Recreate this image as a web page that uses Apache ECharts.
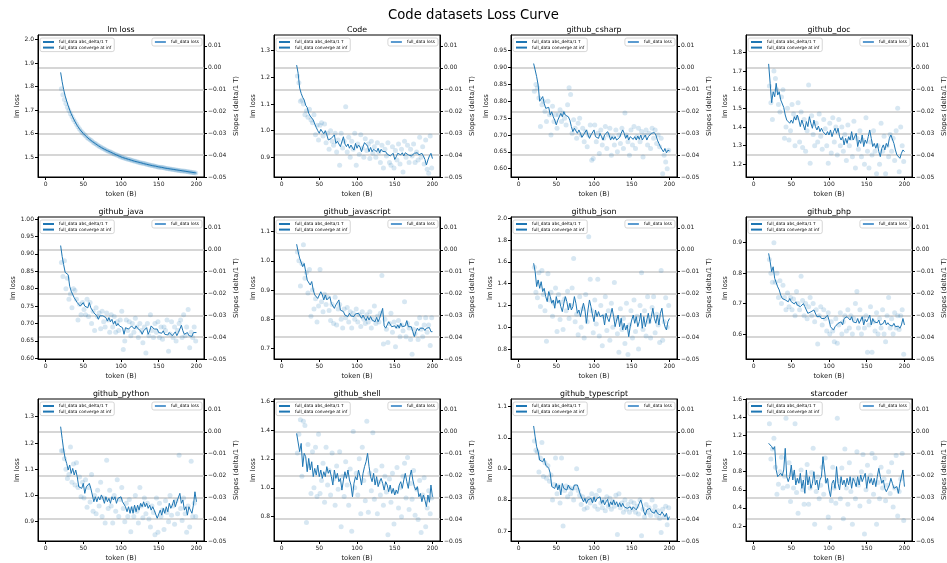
<!DOCTYPE html>
<html>
<head>
<meta charset="utf-8">
<script src="https://cdn.jsdelivr.net/npm/echarts@6/dist/echarts.min.js"></script>
<style>
  html, body { margin: 0; padding: 0; background: #ffffff; }
  #chart { width: 947px; height: 563px; }
</style>
</head>
<body>
<div id="chart"></div>
<script>
// ---- text ----
const suptitle = 'Code datasets Loss Curve';
const panelTitles = ['lm loss', 'Code', 'github_csharp', 'github_doc',
  'github_java', 'github_javascript', 'github_json', 'github_php',
  'github_python', 'github_shell', 'github_typescript', 'starcoder'];
const legendDelta = 'full_data abs_delta/1 T';
const legendConverge = 'full_data converge at inf';
const legendLoss = 'full_data loss';

// ---- shared x positions (token count, in billions) ----
const lineTokens = [
  20, 22, 24, 26, 28, 30, 32, 34, 36, 38,
  40, 42, 44, 46, 48, 50, 52, 54, 56, 58,
  60, 62, 64, 66, 68, 70, 72, 74, 76, 78,
  80, 82, 84, 86, 88, 90, 92, 94, 96, 98,
  100, 102, 104, 106, 108, 110, 112, 114, 116, 118,
  120, 122, 124, 126, 128, 130, 132, 134, 136, 138,
  140, 142, 144, 146, 148, 150, 152, 154, 156, 158,
  160, 162, 164, 166, 168, 170, 172, 174, 176, 178,
  180, 182, 184, 186, 188, 190, 192, 194, 196, 198,
  200];
const dotTokens = [
  21, 23, 25, 27, 29, 31, 33, 35, 37, 39,
  41, 43, 45, 47, 49, 51, 53, 55, 57, 59,
  61, 63, 65, 67, 69, 71, 73, 75, 77, 79,
  81, 83, 85, 87, 89, 91, 93, 95, 97, 99,
  101, 103, 105, 107, 109, 111, 113, 115, 117, 119,
  121, 123, 125, 127, 129, 131, 133, 135, 137, 139,
  141, 143, 145, 147, 149, 151, 153, 155, 157, 159,
  161, 163, 165, 167, 169, 171, 173, 175, 177, 179,
  181, 183, 185, 187, 189, 191, 193, 195, 197, 199];

// ---- tick labels ----
const tokenTicks = [0, 50, 100, 150, 200];
const slopeTicks = [-0.05, -0.04, -0.03, -0.02, -0.01, 0, 0.01];
const lmLossTicks = [1.5, 1.6, 1.7, 1.8, 1.9, 2.0];
const codeTicks = [0.9, 1.0, 1.1, 1.2, 1.3];
const csharpTicks = [0.60, 0.65, 0.70, 0.75, 0.80, 0.85, 0.90, 0.95];
const docTicks = [1.2, 1.3, 1.4, 1.5, 1.6, 1.7, 1.8];
const javaTicks = [0.60, 0.65, 0.70, 0.75, 0.80, 0.85, 0.90, 0.95, 1.00];
const jsTicks = [0.7, 0.8, 0.9, 1.0, 1.1];
const jsonTicks = [0.8, 1.0, 1.2, 1.4, 1.6, 1.8, 2.0];
const phpTicks = [0.6, 0.7, 0.8, 0.9];
const pythonTicks = [0.9, 1.0, 1.1, 1.2, 1.3];
const shellTicks = [0.8, 1.0, 1.2, 1.4, 1.6];
const tsTicks = [0.7, 0.8, 0.9, 1.0, 1.1];
const starTicks = [0.2, 0.4, 0.6, 0.8, 1.0, 1.2, 1.4, 1.6];

// ---- lm loss ----
const lmLossLine = [
  1.860, 1.820, 1.787, 1.760, 1.738, 1.718, 1.700, 1.684, 1.670, 1.657,
  1.645, 1.634, 1.624, 1.615, 1.607, 1.600, 1.593, 1.587, 1.581, 1.576,
  1.571, 1.566, 1.561, 1.557, 1.552, 1.548, 1.544, 1.540, 1.537, 1.533,
  1.530, 1.527, 1.524, 1.521, 1.518, 1.515, 1.512, 1.509, 1.506, 1.503,
  1.500, 1.498, 1.496, 1.494, 1.492, 1.490, 1.488, 1.486, 1.484, 1.482,
  1.481, 1.479, 1.477, 1.476, 1.474, 1.472, 1.471, 1.469, 1.468, 1.466,
  1.465, 1.463, 1.462, 1.461, 1.459, 1.458, 1.457, 1.456, 1.454, 1.453,
  1.452, 1.451, 1.450, 1.449, 1.448, 1.447, 1.446, 1.445, 1.444, 1.443,
  1.442, 1.441, 1.440, 1.439, 1.438, 1.437, 1.436, 1.435, 1.434, 1.433,
  1.432];
const lmLossDots = [
  1.790, 1.765, 1.745, 1.728, 1.712, 1.698, 1.684, 1.672, 1.660, 1.650,
  1.639, 1.629, 1.619, 1.611, 1.603, 1.597, 1.590, 1.583, 1.578, 1.573,
  1.569, 1.563, 1.559, 1.555, 1.550, 1.546, 1.543, 1.538, 1.535, 1.532,
  1.528, 1.525, 1.522, 1.520, 1.516, 1.513, 1.511, 1.507, 1.505, 1.501,
  1.499, 1.497, 1.495, 1.493, 1.490, 1.489, 1.487, 1.485, 1.483, 1.482,
  1.480, 1.478, 1.476, 1.475, 1.473, 1.472, 1.470, 1.468, 1.467, 1.465,
  1.464, 1.463, 1.461, 1.460, 1.458, 1.457, 1.456, 1.455, 1.454, 1.452,
  1.451, 1.450, 1.449, 1.448, 1.447, 1.446, 1.445, 1.444, 1.443, 1.442,
  1.441, 1.440, 1.439, 1.438, 1.437, 1.436, 1.435, 1.434, 1.433, 1.432];

// ---- Code ----
const codeLine = [
  1.246, 1.215, 1.160, 1.140, 1.125, 1.115, 1.095, 1.087, 1.065, 1.055,
  1.060, 1.040, 1.025, 1.012, 1.000, 0.990, 1.005, 1.000, 0.988, 1.000,
  0.984, 0.965, 0.960, 0.971, 0.965, 0.984, 0.952, 0.960, 0.965, 0.940,
  0.946, 0.977, 0.950, 0.940, 0.950, 0.934, 0.946, 0.935, 0.927, 0.952,
  0.934, 0.946, 0.938, 0.921, 0.940, 0.955, 0.962, 0.942, 0.921, 0.937,
  0.921, 0.930, 0.934, 0.921, 0.934, 0.917, 0.930, 0.922, 0.915, 0.921,
  0.912, 0.917, 0.905, 0.902, 0.915, 0.892, 0.902, 0.915, 0.921, 0.909,
  0.917, 0.905, 0.917, 0.912, 0.909, 0.915, 0.905, 0.912, 0.915, 0.909,
  0.917, 0.909, 0.912, 0.915, 0.905, 0.892, 0.871, 0.890, 0.905, 0.915,
  0.895];
const codeDots = [
  1.205, 1.180, 1.110, 1.115, 1.100, 1.060, 1.075, 1.050, 1.080, 1.040,
  1.030, 1.060, 0.985, 1.020, 0.965, 1.020, 1.030, 0.980, 1.025, 0.955,
  0.990, 0.930, 1.000, 0.960, 0.945, 0.990, 0.920, 0.965, 0.870, 0.990,
  0.935, 0.960, 1.090, 0.920, 0.975, 0.900, 0.960, 0.930, 0.990, 0.870,
  0.950, 0.910, 0.985, 0.935, 0.900, 0.970, 0.925, 0.950, 0.895, 0.960,
  0.915, 0.940, 0.900, 0.955, 0.920, 0.880, 0.945, 0.860, 0.930, 0.905,
  0.955, 0.880, 0.870, 0.940, 0.860, 0.925, 0.890, 0.950, 0.875, 0.930,
  0.845, 0.960, 0.900, 0.945, 0.880, 0.930, 0.905, 0.950, 0.880, 0.920,
  0.890, 0.975, 0.900, 0.940, 0.875, 0.965, 0.855, 0.840, 0.980, 0.860];

// ---- github_csharp ----
const csharpLine = [
  0.912, 0.893, 0.873, 0.848, 0.800, 0.799, 0.814, 0.794, 0.779, 0.779,
  0.782, 0.759, 0.769, 0.754, 0.744, 0.730, 0.744, 0.754, 0.764, 0.754,
  0.769, 0.759, 0.754, 0.754, 0.744, 0.725, 0.710, 0.720, 0.715, 0.705,
  0.715, 0.705, 0.693, 0.700, 0.695, 0.715, 0.700, 0.690, 0.700, 0.705,
  0.715, 0.695, 0.700, 0.690, 0.705, 0.695, 0.685, 0.700, 0.695, 0.710,
  0.700, 0.685, 0.695, 0.687, 0.695, 0.685, 0.690, 0.693, 0.705, 0.715,
  0.705, 0.690, 0.700, 0.685, 0.695, 0.700, 0.687, 0.695, 0.685, 0.697,
  0.687, 0.700, 0.685, 0.693, 0.700, 0.685, 0.695, 0.690, 0.705, 0.700,
  0.707, 0.700, 0.685, 0.675, 0.665, 0.667, 0.650, 0.660, 0.647, 0.655,
  0.653];
const csharpDots = [
  0.830, 0.850, 0.840, 0.810, 0.725, 0.790, 0.800, 0.770, 0.740, 0.800,
  0.760, 0.700, 0.785, 0.740, 0.760, 0.720, 0.760, 0.775, 0.740, 0.765,
  0.750, 0.730, 0.790, 0.840, 0.820, 0.705, 0.745, 0.720, 0.690, 0.735,
  0.750, 0.700, 0.720, 0.680, 0.710, 0.665, 0.700, 0.730, 0.625, 0.630,
  0.730, 0.680, 0.705, 0.645, 0.715, 0.670, 0.690, 0.725, 0.660, 0.700,
  0.720, 0.640, 0.695, 0.670, 0.715, 0.650, 0.700, 0.675, 0.720, 0.660,
  0.765, 0.700, 0.680, 0.640, 0.715, 0.670, 0.725, 0.660, 0.695, 0.720,
  0.680, 0.710, 0.635, 0.700, 0.715, 0.670, 0.705, 0.660, 0.720, 0.690,
  0.715, 0.675, 0.700, 0.665, 0.690, 0.585, 0.640, 0.620, 0.600, 0.655];

// ---- github_doc ----
const docLine = [
  1.738, 1.634, 1.530, 1.589, 1.562, 1.634, 1.571, 1.589, 1.545, 1.554,
  1.505, 1.464, 1.437, 1.446, 1.420, 1.437, 1.420, 1.455, 1.437, 1.464,
  1.437, 1.402, 1.437, 1.411, 1.384, 1.429, 1.402, 1.455, 1.420, 1.393,
  1.437, 1.402, 1.384, 1.405, 1.375, 1.393, 1.375, 1.384, 1.357, 1.375,
  1.357, 1.384, 1.348, 1.375, 1.393, 1.366, 1.393, 1.348, 1.330, 1.348,
  1.304, 1.339, 1.312, 1.348, 1.330, 1.375, 1.330, 1.321, 1.366, 1.295,
  1.330, 1.312, 1.357, 1.295, 1.330, 1.312, 1.348, 1.384, 1.339, 1.295,
  1.312, 1.286, 1.312, 1.268, 1.241, 1.286, 1.304, 1.277, 1.312, 1.295,
  1.339, 1.357, 1.348, 1.312, 1.277, 1.250, 1.259, 1.232, 1.259, 1.277,
  1.268];
const docDots = [
  1.620, 1.530, 1.440, 1.700, 1.660, 1.600, 1.520, 1.480, 1.560, 1.600,
  1.340, 1.400, 1.500, 1.330, 1.380, 1.520, 1.470, 1.300, 1.450, 1.530,
  1.320, 1.480, 1.290, 1.440, 1.270, 1.380, 1.625, 1.205, 1.460, 1.360,
  1.300, 1.420, 1.320, 1.470, 1.350, 1.280, 1.440, 1.390, 1.300, 1.205,
  1.420, 1.260, 1.450, 1.320, 1.400, 1.250, 1.440, 1.300, 1.400, 1.270,
  1.360, 1.220, 1.410, 1.300, 1.340, 1.240, 1.430, 1.180, 1.340, 1.280,
  1.380, 1.240, 1.330, 1.200, 1.450, 1.270, 1.180, 1.320, 1.250, 1.380,
  1.270, 1.150, 1.300, 1.200, 1.420, 1.270, 1.350, 1.150, 1.300, 1.240,
  1.360, 1.270, 1.340, 1.220, 1.380, 1.500, 1.160, 1.400, 1.300, 1.215];

// ---- github_java ----
const javaLine = [
  0.924, 0.893, 0.869, 0.847, 0.845, 0.840, 0.807, 0.793, 0.788, 0.774,
  0.769, 0.760, 0.764, 0.750, 0.745, 0.760, 0.750, 0.755, 0.745, 0.760,
  0.745, 0.740, 0.731, 0.736, 0.722, 0.712, 0.722, 0.717, 0.722, 0.726,
  0.717, 0.707, 0.717, 0.705, 0.712, 0.698, 0.707, 0.693, 0.700, 0.693,
  0.698, 0.688, 0.669, 0.688, 0.693, 0.684, 0.688, 0.693, 0.688, 0.684,
  0.693, 0.686, 0.688, 0.679, 0.669, 0.679, 0.674, 0.688, 0.669, 0.679,
  0.693, 0.698, 0.684, 0.679, 0.684, 0.674, 0.679, 0.672, 0.679, 0.669,
  0.674, 0.667, 0.674, 0.669, 0.665, 0.669, 0.676, 0.665, 0.674, 0.684,
  0.695, 0.679, 0.669, 0.665, 0.674, 0.665, 0.669, 0.663, 0.674, 0.679,
  0.674];
const javaDots = [
  0.875, 0.835, 0.880, 0.800, 0.830, 0.770, 0.785, 0.745, 0.800, 0.795,
  0.770, 0.710, 0.755, 0.725, 0.760, 0.740, 0.725, 0.770, 0.720, 0.760,
  0.700, 0.735, 0.680, 0.745, 0.720, 0.730, 0.685, 0.735, 0.705, 0.690,
  0.730, 0.710, 0.675, 0.725, 0.690, 0.720, 0.675, 0.705, 0.680, 0.710,
  0.735, 0.625, 0.650, 0.710, 0.680, 0.705, 0.665, 0.700, 0.675, 0.715,
  0.690, 0.660, 0.700, 0.680, 0.645, 0.690, 0.615, 0.700, 0.665, 0.725,
  0.680, 0.660, 0.700, 0.675, 0.705, 0.660, 0.690, 0.655, 0.690, 0.680,
  0.710, 0.620, 0.670, 0.705, 0.660, 0.690, 0.650, 0.680, 0.700, 0.710,
  0.660, 0.725, 0.665, 0.690, 0.740, 0.630, 0.675, 0.660, 0.690, 0.650];

// ---- github_javascript ----
const jsLine = [
  1.057, 1.031, 1.009, 1.014, 0.980, 0.991, 0.963, 0.934, 0.934, 0.917,
  0.929, 0.900, 0.883, 0.889, 0.871, 0.871, 0.894, 0.883, 0.866, 0.883,
  0.866, 0.860, 0.877, 0.854, 0.860, 0.837, 0.849, 0.843, 0.866, 0.831,
  0.837, 0.826, 0.814, 0.820, 0.809, 0.820, 0.811, 0.814, 0.809, 0.818,
  0.814, 0.820, 0.814, 0.803, 0.814, 0.803, 0.795, 0.809, 0.797, 0.809,
  0.797, 0.803, 0.791, 0.806, 0.791, 0.803, 0.809, 0.837, 0.777, 0.769,
  0.780, 0.791, 0.797, 0.774, 0.769, 0.777, 0.769, 0.780, 0.769, 0.786,
  0.774, 0.769, 0.777, 0.795, 0.774, 0.769, 0.774, 0.757, 0.740, 0.757,
  0.769, 0.761, 0.769, 0.763, 0.769, 0.761, 0.769, 0.763, 0.771, 0.757,
  0.757];
const jsDots = [
  1.030, 1.000, 0.914, 0.990, 1.055, 0.940, 0.960, 0.890, 0.970, 0.810,
  0.900, 0.835, 0.870, 0.790, 0.845, 0.970, 0.860, 0.825, 0.885, 0.850,
  0.875, 0.830, 0.795, 0.850, 0.785, 0.875, 0.780, 0.835, 0.850, 0.800,
  0.770, 0.835, 0.805, 0.840, 0.790, 0.825, 0.770, 0.820, 0.800, 0.835,
  0.790, 0.815, 0.775, 0.825, 0.800, 0.785, 0.815, 0.790, 0.825, 0.770,
  0.800, 0.845, 0.785, 0.810, 0.790, 0.820, 0.950, 0.715, 0.800, 0.765,
  0.720, 0.785, 0.820, 0.755, 0.790, 0.705, 0.775, 0.795, 0.740, 0.780,
  0.760, 0.860, 0.740, 0.785, 0.770, 0.730, 0.680, 0.765, 0.750, 0.785,
  0.730, 0.805, 0.765, 0.740, 0.780, 0.805, 0.755, 0.780, 0.710, 0.805];

// ---- github_json ----
const jsonLine = [
  1.587, 1.510, 1.373, 1.434, 1.357, 1.418, 1.327, 1.357, 1.281, 1.235,
  1.327, 1.281, 1.220, 1.250, 1.174, 1.281, 1.220, 1.250, 1.189, 1.143,
  1.220, 1.281, 1.235, 1.158, 1.220, 1.158, 1.189, 1.281, 1.220, 1.128,
  1.158, 1.097, 1.158, 1.220, 1.158, 1.036, 1.158, 1.250, 1.189, 1.112,
  1.051, 1.158, 1.097, 1.143, 1.097, 1.082, 1.112, 1.020, 1.128, 1.082,
  1.051, 1.112, 1.174, 1.097, 1.005, 1.066, 1.112, 1.005, 1.082, 0.975,
  1.036, 0.975, 1.020, 0.913, 1.005, 1.066, 1.112, 1.036, 1.097, 1.005,
  1.051, 1.128, 0.990, 1.097, 1.005, 1.066, 1.128, 1.036, 1.097, 1.174,
  1.082, 1.036, 1.112, 1.020, 1.128, 1.174, 1.066, 1.005, 0.975, 1.051,
  1.080];
const jsonDots = [
  1.550, 1.320, 1.270, 1.500, 1.190, 1.520, 1.300, 1.150, 0.870, 1.490,
  1.250, 1.320, 1.100, 1.220, 1.360, 0.960, 1.300, 1.070, 1.230, 0.980,
  1.260, 1.150, 1.330, 1.080, 1.200, 1.360, 1.630, 1.050, 1.120, 0.930,
  1.280, 1.000, 1.170, 0.900, 1.300, 1.050, 1.830, 1.440, 1.150, 0.950,
  1.250, 1.030, 1.440, 0.920, 1.200, 0.830, 1.100, 1.280, 0.970, 1.150,
  0.880, 1.220, 1.000, 1.410, 1.080, 0.940, 0.770, 1.170, 0.980, 1.080,
  0.850, 1.220, 0.750, 1.020, 1.150, 0.900, 1.250, 0.960, 1.100, 0.800,
  1.200, 1.500, 0.980, 1.150, 0.920, 1.280, 1.050, 0.900, 1.180, 1.280,
  0.950, 1.120, 1.020, 0.860, 1.520, 0.880, 1.050, 1.270, 1.000, 1.200];

// ---- github_php ----
const phpLine = [
  0.865, 0.838, 0.805, 0.821, 0.783, 0.777, 0.755, 0.745, 0.728, 0.717,
  0.723, 0.712, 0.717, 0.706, 0.717, 0.706, 0.712, 0.699, 0.706, 0.695,
  0.700, 0.690, 0.692, 0.700, 0.690, 0.679, 0.668, 0.662, 0.673, 0.668,
  0.679, 0.684, 0.657, 0.651, 0.659, 0.651, 0.657, 0.651, 0.657, 0.662,
  0.646, 0.624, 0.630, 0.613, 0.624, 0.619, 0.635, 0.630, 0.640, 0.630,
  0.651, 0.646, 0.657, 0.651, 0.646, 0.657, 0.640, 0.646, 0.637, 0.651,
  0.635, 0.646, 0.657, 0.630, 0.648, 0.640, 0.651, 0.662, 0.630, 0.651,
  0.640, 0.646, 0.637, 0.646, 0.630, 0.624, 0.635, 0.646, 0.630, 0.637,
  0.630, 0.635, 0.626, 0.635, 0.624, 0.630, 0.626, 0.619, 0.630, 0.651,
  0.630];
const phpDots = [
  0.845, 0.800, 0.770, 0.900, 0.770, 0.800, 0.720, 0.775, 0.700, 0.760,
  0.720, 0.680, 0.735, 0.690, 0.720, 0.680, 0.715, 0.660, 0.740, 0.700,
  0.680, 0.790, 0.710, 0.660, 0.700, 0.650, 0.690, 0.720, 0.660, 0.700,
  0.640, 0.680, 0.567, 0.660, 0.690, 0.630, 0.680, 0.650, 0.610, 0.670,
  0.600, 0.640, 0.610, 0.575, 0.650, 0.570, 0.630, 0.670, 0.600, 0.640,
  0.660, 0.610, 0.680, 0.620, 0.660, 0.600, 0.650, 0.700, 0.740, 0.620,
  0.680, 0.600, 0.650, 0.620, 0.660, 0.540, 0.630, 0.690, 0.540, 0.640,
  0.610, 0.670, 0.600, 0.650, 0.620, 0.680, 0.600, 0.575, 0.660, 0.720,
  0.620, 0.650, 0.600, 0.670, 0.620, 0.660, 0.615, 0.660, 0.680, 0.534];

// ---- github_python ----
const pythonLine = [
  1.262, 1.217, 1.173, 1.141, 1.122, 1.097, 1.116, 1.084, 1.103, 1.078,
  1.097, 1.071, 1.033, 1.040, 1.027, 1.046, 1.008, 1.033, 1.040, 1.046,
  1.027, 1.002, 0.976, 0.995, 0.976, 0.995, 0.983, 1.002, 0.989, 0.970,
  0.995, 0.976, 0.989, 0.970, 0.995, 0.983, 0.995, 0.970, 0.989, 0.983,
  0.995, 0.976, 0.983, 0.957, 0.938, 0.957, 0.932, 0.957, 0.932, 0.963,
  0.938, 0.963, 0.944, 0.970, 0.957, 0.976, 0.957, 0.970, 0.951, 0.963,
  0.944, 0.957, 0.944, 0.938, 0.913, 0.919, 0.944, 0.925, 0.951, 0.932,
  0.957, 0.938, 0.970, 0.951, 0.963, 0.983, 0.957, 0.976, 0.970, 1.008,
  0.970, 0.983, 0.944, 0.957, 0.925, 0.957, 0.944, 0.932, 0.963, 1.014,
  0.976];
const pythonDots = [
  1.170, 1.170, 1.140, 1.100, 1.065, 1.080, 1.185, 1.050, 1.120, 1.040,
  1.125, 1.030, 1.070, 0.995, 1.050, 0.990, 1.060, 0.955, 1.030, 0.975,
  1.080, 0.940, 1.000, 0.930, 1.020, 0.960, 1.050, 0.920, 0.990, 0.895,
  1.134, 0.950, 1.020, 0.960, 0.895, 1.000, 0.940, 1.060, 0.920, 0.985,
  1.030, 0.950, 0.900, 0.970, 0.920, 0.985, 0.862, 0.950, 0.920, 1.000,
  0.940, 0.895, 1.030, 0.960, 0.915, 0.990, 0.930, 0.970, 0.910, 0.880,
  0.960, 0.935, 0.850, 0.990, 0.860, 0.970, 0.920, 0.945, 0.870, 0.980,
  0.935, 0.900, 1.000, 0.925, 0.960, 0.890, 0.980, 0.930, 1.153, 0.950,
  0.905, 0.990, 0.930, 0.860, 0.960, 0.880, 1.130, 0.920, 0.970, 0.920];

// ---- github_shell ----
const shellLine = [
  1.376, 1.365, 1.250, 1.307, 1.146, 1.238, 1.215, 1.111, 1.203, 1.123,
  1.180, 1.077, 1.134, 1.088, 1.157, 1.077, 1.123, 1.065, 1.111, 1.077,
  1.146, 1.100, 1.123, 1.077, 1.019, 1.123, 1.065, 1.100, 1.042, 1.065,
  0.984, 1.054, 1.111, 1.065, 1.123, 1.054, 1.019, 0.938, 1.031, 1.077,
  1.054, 1.123, 1.077, 1.019, 1.100, 1.146, 1.180, 1.238, 1.146, 1.077,
  1.042, 1.100, 1.019, 1.077, 1.008, 1.042, 1.065, 1.031, 0.984, 1.042,
  1.019, 0.973, 1.019, 0.961, 0.996, 0.950, 0.984, 0.961, 1.019, 1.042,
  0.996, 1.054, 1.100, 1.042, 0.996, 1.077, 1.123, 1.054, 1.008, 0.984,
  1.008, 0.938, 0.961, 0.904, 0.950, 0.915, 0.870, 0.950, 0.900, 1.019,
  0.938];
const shellDots = [
  1.240, 1.370, 1.470, 1.080, 1.460, 1.430, 0.760, 1.300, 1.150, 0.960,
  1.250, 1.000, 1.280, 0.940, 1.370, 0.960, 1.050, 1.170, 0.900, 1.280,
  1.020, 1.120, 0.950, 1.240, 1.060, 0.880, 1.150, 0.990, 1.250, 0.730,
  1.080, 0.940, 1.180, 1.020, 0.880, 1.130, 0.700, 1.390, 1.000, 1.100,
  0.950, 1.200, 0.820, 1.280, 1.050, 0.910, 1.460, 0.830, 1.100, 0.980,
  1.380, 0.920, 1.120, 0.820, 1.040, 0.950, 1.150, 0.880, 1.080, 0.970,
  0.675, 1.060, 0.900, 1.100, 0.750, 0.970, 1.140, 0.860, 1.000, 0.800,
  1.080, 1.170, 0.930, 1.210, 0.850, 1.030, 0.920, 1.120, 0.810, 0.990,
  0.780, 1.050, 0.690, 0.950, 1.070, 0.730, 0.860, 0.980, 0.820, 0.930];

// ---- github_typescript ----
const tsLine = [
  1.038, 1.003, 0.971, 0.955, 0.928, 0.934, 0.923, 0.934, 0.912, 0.918,
  0.902, 0.886, 0.843, 0.848, 0.837, 0.853, 0.832, 0.848, 0.816, 0.853,
  0.837, 0.843, 0.832, 0.848, 0.837, 0.843, 0.832, 0.848, 0.843, 0.848,
  0.832, 0.816, 0.810, 0.794, 0.805, 0.789, 0.800, 0.794, 0.805, 0.791,
  0.810, 0.794, 0.805, 0.800, 0.810, 0.789, 0.800, 0.784, 0.794, 0.802,
  0.778, 0.794, 0.784, 0.800, 0.784, 0.794, 0.778, 0.791, 0.778, 0.789,
  0.778, 0.784, 0.773, 0.768, 0.778, 0.768, 0.778, 0.784, 0.768, 0.778,
  0.789, 0.800, 0.784, 0.762, 0.751, 0.768, 0.762, 0.773, 0.762, 0.768,
  0.757, 0.768, 0.757, 0.762, 0.751, 0.762, 0.757, 0.746, 0.757, 0.735,
  0.746];
const tsDots = [
  0.990, 0.960, 0.955, 0.890, 0.935, 0.985, 0.875, 0.920, 0.870, 0.910,
  0.860, 0.880, 0.800, 0.850, 0.935, 0.820, 0.845, 0.790, 0.935, 0.716,
  0.830, 0.845, 0.810, 0.840, 0.820, 0.835, 0.800, 0.840, 0.900, 0.830,
  0.815, 0.785, 0.810, 0.770, 0.800, 0.775, 0.805, 0.790, 0.820, 0.800,
  0.780, 0.815, 0.770, 0.830, 0.790, 0.775, 0.800, 0.765, 0.810, 0.780,
  0.805, 0.770, 0.795, 0.780, 0.815, 0.689, 0.820, 0.775, 0.790, 0.760,
  0.800, 0.770, 0.785, 0.760, 0.795, 0.770, 0.790, 0.760, 0.780, 0.755,
  0.800, 0.685, 0.770, 0.745, 0.785, 0.760, 0.775, 0.750, 0.800, 0.765,
  0.780, 0.750, 0.765, 0.740, 0.695, 0.770, 0.745, 0.780, 0.720, 0.775];

// ---- starcoder ----
const starLine = [
  1.114, 1.114, 1.077, 1.047, 1.077, 0.819, 0.745, 0.745, 0.782, 0.753,
  0.819, 1.058, 0.745, 0.690, 0.745, 0.874, 0.708, 0.819, 0.653, 0.727,
  0.672, 0.782, 0.616, 0.708, 0.561, 0.819, 0.653, 0.745, 0.616, 0.672,
  0.800, 0.653, 0.708, 0.598, 0.708, 0.745, 0.966, 0.819, 0.672, 0.727,
  0.598, 0.524, 0.672, 0.708, 0.616, 0.856, 0.672, 0.598, 0.745, 0.653,
  0.708, 0.635, 0.727, 0.653, 0.745, 0.616, 0.727, 0.690, 0.635, 0.745,
  0.653, 0.764, 0.690, 0.708, 0.782, 0.616, 0.745, 0.672, 0.727, 0.653,
  0.727, 0.635, 0.745, 0.837, 0.745, 0.672, 0.708, 0.616, 0.579, 0.598,
  0.653, 0.727, 0.672, 0.616, 0.598, 0.635, 0.561, 0.672, 0.653, 0.819,
  0.635];
const starDots = [
  1.330, 0.940, 1.050, 1.170, 0.850, 0.550, 0.660, 0.800, 0.960, 0.620,
  0.750, 1.390, 0.640, 0.900, 0.470, 0.780, 0.620, 1.330, 0.570, 0.340,
  0.700, 0.820, 0.600, 0.440, 0.730, 0.880, 0.440, 0.620, 0.790, 1.060,
  0.220, 0.580, 0.740, 0.500, 0.650, 0.850, 0.550, 0.950, 0.700, 0.300,
  0.180, 0.480, 0.850, 0.620, 0.450, 1.390, 0.700, 0.500, 0.840, 0.280,
  1.050, 0.620, 0.440, 0.900, 0.580, 0.220, 0.720, 0.500, 1.020, 0.650,
  0.420, 0.800, 0.990, 0.110, 0.600, 0.870, 0.470, 0.760, 1.000, 0.550,
  0.950, 0.220, 0.680, 0.500, 0.850, 0.620, 0.720, 0.480, 0.650, 0.800,
  0.560, 0.900, 0.410, 0.620, 0.980, 0.310, 0.580, 0.720, 1.000, 0.260];

// ---- panel wiring: which arrays go into which subplot, and its loss-axis extent ----
const panels = [
  { line: lmLossLine, dots: lmLossDots, ticks: lmLossTicks, ymin: 1.415, ymax: 2.019 },
  { line: codeLine, dots: codeDots, ticks: codeTicks, ymin: 0.826, ymax: 1.359 },
  { line: csharpLine, dots: csharpDots, ticks: csharpTicks, ymin: 0.5754, ymax: 0.9966 },
  { line: docLine, dots: docDots, ticks: docTicks, ymin: 1.132, ymax: 1.8927 },
  { line: javaLine, dots: javaDots, ticks: javaTicks, ymin: 0.598, ymax: 1.006 },
  { line: jsLine, dots: jsDots, ticks: jsTicks, ymin: 0.6633, ymax: 1.1504 },
  { line: jsonLine, dots: jsonDots, ticks: jsonTicks, ymin: 0.708, ymax: 2.012 },
  { line: phpLine, dots: phpDots, ticks: phpTicks, ymin: 0.518, ymax: 0.9845 },
  { line: pythonLine, dots: pythonDots, ticks: pythonTicks, ymin: 0.8265, ymax: 1.3674 },
  { line: shellLine, dots: shellDots, ticks: shellTicks, ymin: 0.632, ymax: 1.614 },
  { line: tsLine, dots: tsDots, ticks: tsTicks, ymin: 0.6678, ymax: 1.1248 },
  { line: starLine, dots: starDots, ticks: starTicks, ymin: 0.034, ymax: 1.6033 }
];

// ---- layout ----
const FONT = 'DejaVu Sans';
const INK = '#1a1a1a';
const BLUE = '#1f77b4';
const colLeft = [38, 274, 511, 746];
const rowTop = [35, 217, 399];
const plotW = 166;
const plotH = 142;

function decimalsOf(ticks) {
  const step = ticks[1] - ticks[0];
  return step < 0.099 ? 2 : 1;
}
function slopeLabel(v) {
  const s = Math.abs(v) < 1e-9 ? '0.00' : v.toFixed(2);
  return s.replace('-', '\u2212');
}

const grids = [], xAxes = [], yAxes = [], series = [], titles = [], legends = [];

titles.push({
  text: suptitle, left: 'center', top: 9, padding: 0,
  textStyle: { fontFamily: FONT, fontSize: 13.2, fontWeight: 'normal', color: '#000' }
});

// legend entries are drawn as plain line samples (no marker dot)
const legendBase = {
  orient: 'vertical',
  itemWidth: 11, itemHeight: 5, itemGap: 1.6,
  padding: [2, 3, 2, 2],
  backgroundColor: 'rgba(255,255,255,0.8)',
  borderColor: '#cccccc', borderWidth: 0.8, borderRadius: 2,
  selectedMode: false,
  itemStyle: { opacity: 0 },
  textStyle: { fontFamily: FONT, fontSize: 4.3, color: '#000' }
};

panels.forEach((p, i) => {
  const col = i % 4, row = Math.floor(i / 4);
  const left = colLeft[col], top = rowTop[row];
  const dec = decimalsOf(p.ticks);

  grids.push({
    left: left, top: top, width: plotW, height: plotH,
    containLabel: false, outerBoundsMode: 'none',
    show: true, borderColor: '#000', borderWidth: 1, backgroundColor: 'transparent'
  });

  titles.push({
    text: panelTitles[i], left: left + plotW / 2, top: top - 9.5, textAlign: 'center', padding: 0,
    textStyle: { fontFamily: FONT, fontSize: 7.8, fontWeight: 'normal', color: '#000' }
  });

  xAxes.push({
    type: 'value', gridIndex: i, position: 'bottom', min: -10, max: 210,
    axisLine: { show: true, onZero: false, lineStyle: { color: '#000', width: 1 } },
    axisTick: { show: true, length: 3, customValues: tokenTicks, lineStyle: { color: '#000' } },
    axisLabel: { show: true, customValues: tokenTicks, fontFamily: FONT, fontSize: 6, color: INK, margin: 4 },
    splitLine: { show: false },
    name: 'token (B)', nameLocation: 'middle', nameGap: 14,
    nameTextStyle: { fontFamily: FONT, fontSize: 6.8, color: INK }
  });

  yAxes.push({
    type: 'value', gridIndex: i, position: 'left', min: p.ymin, max: p.ymax,
    axisLine: { show: true, onZero: false, lineStyle: { color: '#000', width: 1 } },
    axisTick: { show: true, length: 3, customValues: p.ticks, lineStyle: { color: '#000' } },
    axisLabel: {
      show: true, customValues: p.ticks, fontFamily: FONT, fontSize: 6, color: INK, margin: 4,
      formatter: (v) => Number(v).toFixed(dec)
    },
    splitLine: { show: false },
    name: 'lm loss', nameLocation: 'middle', nameRotate: 90, nameGap: dec === 2 ? 21 : 17.5,
    nameMoveOverlap: false,
    nameTextStyle: { fontFamily: FONT, fontSize: 6.8, color: INK }
  });
  yAxes.push({
    type: 'value', gridIndex: i, position: 'right', min: -0.05, max: 0.015, interval: 0.01,
    axisLine: { show: true, onZero: false, lineStyle: { color: '#000', width: 1 } },
    axisTick: { show: true, length: 3, customValues: slopeTicks, lineStyle: { color: '#000' } },
    axisLabel: {
      show: true, customValues: slopeTicks, fontFamily: FONT, fontSize: 6, color: INK, margin: 4,
      formatter: (v) => slopeLabel(Number(v))
    },
    splitLine: { show: true, showMinLine: false, showMaxLine: false, lineStyle: { color: '#c9c9c9', width: 1.6 } },
    name: 'Slopes (delta/1 T)', nameLocation: 'middle', nameRotate: 90, nameGap: 29,
    nameMoveOverlap: false,
    nameTextStyle: { fontFamily: FONT, fontSize: 6.8, color: INK }
  });

  series.push({
    type: 'scatter', name: 'full_data samples', xAxisIndex: i, yAxisIndex: 2 * i,
    data: dotTokens.map((x, j) => [x, p.dots[j]]),
    symbolSize: 5, itemStyle: { color: 'rgba(31,119,180,0.22)' },
    silent: true, z: 2, emphasis: { disabled: true }
  });
  series.push({
    type: 'line', name: legendDelta, xAxisIndex: i, yAxisIndex: 2 * i,
    data: lineTokens.map((x, j) => [x, p.line[j]]),
    symbol: 'none', lineStyle: { color: BLUE, width: 1 }, itemStyle: { color: BLUE },
    silent: true, z: 3, emphasis: { disabled: true }
  });
  series.push({
    type: 'line', name: legendConverge, xAxisIndex: i, yAxisIndex: 2 * i, data: [],
    symbol: 'none', lineStyle: { color: BLUE, width: 3 }, itemStyle: { color: BLUE }
  });
  series.push({
    type: 'line', name: legendLoss, xAxisIndex: i, yAxisIndex: 2 * i + 1, data: [],
    symbol: 'none', lineStyle: { color: '#5b9bd0', width: 1.2 }, itemStyle: { color: '#5b9bd0' }
  });

  legends.push(Object.assign({}, legendBase, {
    left: left + 2, top: top + 3, data: [legendDelta, legendConverge]
  }));
  legends.push(Object.assign({}, legendBase, {
    right: 947 - (left + plotW) + 2, top: top + 3, data: [legendLoss]
  }));
});

const chart = echarts.init(document.getElementById('chart'), null, { renderer: 'canvas' });
chart.setOption({
  animation: false,
  backgroundColor: '#ffffff',
  textStyle: { fontFamily: FONT },
  title: titles,
  legend: legends,
  grid: grids,
  xAxis: xAxes,
  yAxis: yAxes,
  series: series
});
</script>
</body>
</html>
